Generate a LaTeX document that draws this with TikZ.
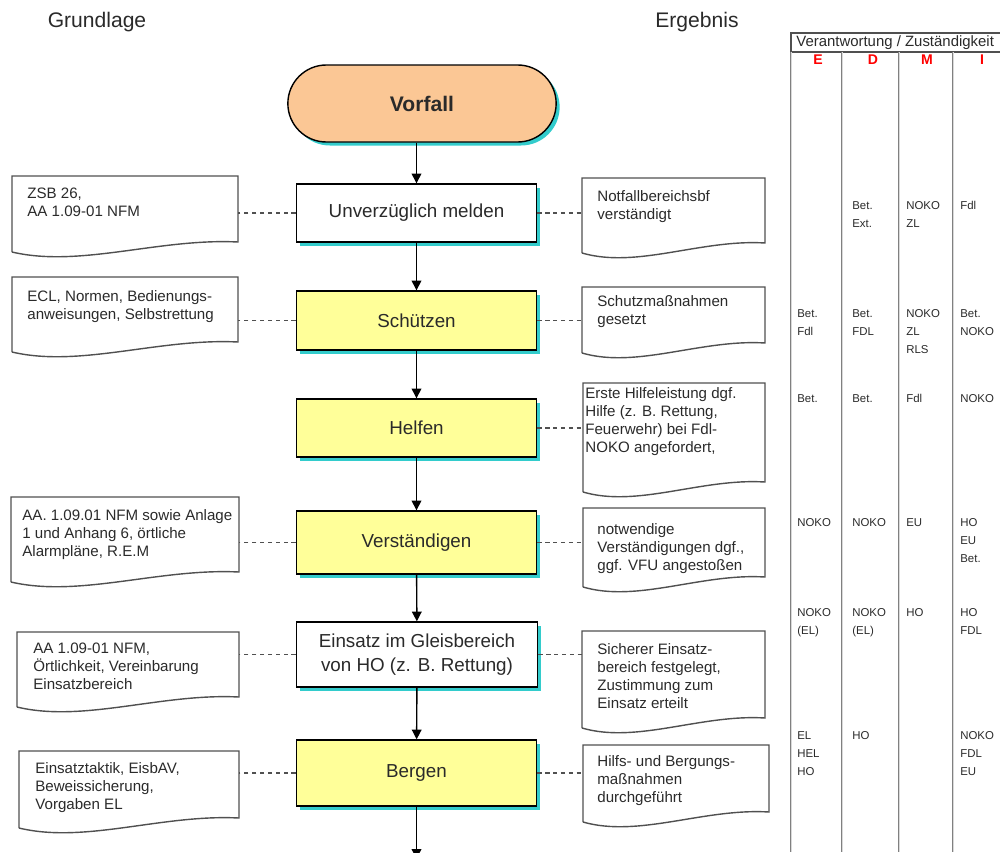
\documentclass[tikz,border=0pt]{standalone}
\usepackage{fontspec}
\setmainfont{Liberation Sans}
\usetikzlibrary{arrows.meta,calc,shapes.misc,shadows}
\definecolor{peach}{HTML}{FBC795}
\definecolor{paleyellow}{HTML}{FFFF99}
\definecolor{shadowcyan}{HTML}{33CCCC}
\definecolor{textgray}{HTML}{2A2A2A}
\definecolor{linegray}{HTML}{505050}
\newcommand{\pxu}{0.02cm}
\tikzset{
  taskbox/.style ={draw=black,line width=0.8pt,fill=paleyellow,minimum width=240*\pxu,align=center,
                   text=textgray,font=\fontsize{10.7}{13.6}\selectfont,
                   drop shadow={shadow xshift=0.07cm,shadow yshift=-0.07cm,fill=shadowcyan,opacity=1}},
  startbox/.style={taskbox,rounded rectangle,fill=peach,minimum width=280*\pxu,minimum height=77*\pxu,
                   font=\fontsize{12}{14}\selectfont\bfseries},
  docframe/.style={anchor=north west,inner sep=0pt,outer sep=0pt},
  doctext/.style ={anchor=north west,inner sep=0pt,align=left,text=textgray,font=\fontsize{8.6}{10.2}\selectfont},
  docline/.style ={draw=linegray,line width=0.8pt},
  flow/.style    ={-{Triangle[length=5.5pt,width=5.5pt]},line width=0.8pt,draw=black},
  link/.style    ={draw=linegray,line width=0.6pt,dash pattern=on 2.5pt off 2pt},
  heading/.style ={text=textgray,font=\fontsize{12}{14}\selectfont},
  cell/.style    ={anchor=north west,inner sep=0pt,align=left,text=textgray,font=\fontsize{6.5}{10.2}\selectfont},
  colletter/.style={text=red,font=\fontsize{8}{9}\selectfont\bfseries},
  colline/.style ={draw=gray,line width=0.4pt,double=gray!30,double distance=0.5pt}
}
% document box: name, x, y, width, left height, text offset, text
\newcommand{\docbox}[7]{%
  \node[docframe,minimum width=#4*\pxu,minimum height=#5*\pxu] (#1) at (#2,#3) {};
  \node[doctext] (#1-text) at ($(#1.north west)+(#6)$) {#7};
  \draw[docline] (#1.south west) -- (#1.north west) -- (#1.north east) -- ([yshift=10*\pxu]#1.south east)
    .. controls ($(#1.south west)!0.65!(#1.south east)+(0,-14)$) and ($(#1.south west)!0.3!(#1.south east)+(0,16)$)
    .. (#1.south west);
}

\begin{document}
\begin{tikzpicture}[x=0.02cm,y=-0.02cm]
  \useasboundingbox (0,0) rectangle (1000,852);

  \node[heading] (hleft)  at (97,22)  {Grundlage};
  \node[heading] (hright) at (697,22) {Ergebnis};

  % main flow
  \node[startbox] (vorfall) at (422,103.5) {Vorfall};
  \node[taskbox,fill=white,minimum height=58*\pxu] (melden)    at (416.5,213)   {Unverzüglich melden};
  \node[taskbox,minimum height=59*\pxu]            (schuetzen) at (416.5,320.5) {Schützen};
  \node[taskbox,minimum height=58*\pxu]            (helfen)    at (416.5,428)   {Helfen};
  \node[taskbox,minimum height=63*\pxu]            (verst)     at (416.5,542.5) {Verständigen};
  \node[taskbox,fill=white,minimum width=241*\pxu,minimum height=65*\pxu] (einsatz) at (417,654.5)
    {Einsatz im Gleisbereich\\von HO (z. B. Rettung)};
  \node[taskbox,minimum height=66*\pxu]            (bergen)    at (416.5,773)   {Bergen};
  \coordinate (exit) at ($(bergen.south)+(0,52)$);

  \draw[flow] (vorfall.south -| melden.north) -- (melden.north);
  \draw[flow] (melden)    -- (schuetzen);
  \draw[flow] (schuetzen) -- (helfen);
  \draw[flow] (helfen)    -- (verst);
  \draw[flow] (verst)     -- (einsatz);
  \draw[flow] (einsatz)   -- (bergen);
  \draw[flow] (bergen)    -- (exit);

  % Grundlage
  \docbox{zsb}{12}{176}{226}{76}{15,12}{ZSB 26,\\AA 1.09-01 NFM}
  \docbox{ecl}{12}{277}{226}{75}{15,13}{ECL, Normen, Bedienungs-\\anweisungen, Selbstrettung}
  \docbox{anlage}{11}{497}{228}{85}{11,12}{AA. 1.09.01 NFM sowie Anlage\\1 und Anhang 6, örtliche\\Alarmpläne, R.E.M}
  \docbox{ortlich}{17}{632}{222}{75}{16,11}{AA 1.09-01 NFM,\\Örtlichkeit, Vereinbarung\\Einsatzbereich}
  \docbox{taktik}{19}{751}{220}{77}{16,11}{Einsatztaktik,  EisbAV,\\Beweissicherung,\\Vorgaben EL}

  % Ergebnis
  \docbox{notfall}{582}{178}{183}{75}{15,12}{Notfallbereichsbf\\verständigt}
  \docbox{schutz}{582}{287}{183}{66}{15,8}{Schutzmaßnahmen\\gesetzt}
  \docbox{hilfe}{583}{383}{182}{109}{2,4}{Erste Hilfeleistung dgf.\\Hilfe (z. B. Rettung,\\Feuerwehr) bei Fdl-\\NOKO angefordert,}
  \docbox{noetig}{583}{508}{182}{79}{14,15}{notwendige\\Verständigungen dgf.,\\ggf. VFU angestoßen}
  \docbox{sicher}{582}{631}{183}{97}{15,12}{Sicherer Einsatz-\\bereich festgelegt,\\Zustimmung  zum\\Einsatz erteilt}
  \docbox{berg}{583}{745}{186}{77}{14,10}{Hilfs- und Bergungs-\\maßnahmen\\durchgeführt}

  \draw[link] (melden.west)    -- (melden.west -| zsb.east);
  \draw[link] (schuetzen.west) -- (schuetzen.west -| ecl.east);
  \draw[link] (verst.west)     -- (verst.west -| anlage.east);
  \draw[link] (einsatz.west)   -- (einsatz.west -| ortlich.east);
  \draw[link] (bergen.west)    -- (bergen.west -| taktik.east);
  \draw[link] (melden.east)    -- (melden.east -| notfall.west);
  \draw[link] (schuetzen.east) -- (schuetzen.east -| schutz.west);
  \draw[link] (helfen.east)    -- (helfen.east -| hilfe.west);
  \draw[link] (verst.east)     -- (verst.east -| noetig.west);
  \draw[link] (einsatz.east)   -- (einsatz.east -| sicher.west);
  \draw[link] (bergen.east)    -- (bergen.east -| berg.west);

  % Verantwortung table
  \draw[line width=1pt,draw=linegray] (1000,33) -- (791,33) -- (791,52) -- (1000,52);
  \node[anchor=west,inner sep=0pt,text=textgray,font=\fontsize{8.5}{10}\selectfont] (resp) at (796,42.5)
    {Verantwortung / Zuständigkeit};
  \draw[colline] (791,52) -- (791,852);
  \foreach \cx in {842,899,953}
    \draw[colline] (\cx,52) -- (\cx,852);
  \foreach \cx/\cl in {818/E,873/D,927/M,982/I}
    \node[colletter] (col\cl) at (\cx,60) {\cl};
  \foreach \cx/\cy/\ct [count=\i] in {
      852/201/{Bet.\\Ext.}, 906/201/{NOKO\\ZL}, 960/201/{Fdl},
      797/309/{Bet.\\Fdl}, 852/309/{Bet.\\FDL}, 906/309/{NOKO\\ZL\\RLS}, 960/309/{Bet.\\NOKO},
      797/394/{Bet.}, 852/394/{Bet.}, 906/394/{Fdl}, 960/394/{NOKO},
      797/518/{NOKO}, 852/518/{NOKO}, 906/518/{EU}, 960/518/{HO\\EU\\Bet.},
      797/608/{NOKO\\(EL)}, 852/608/{NOKO\\(EL)}, 906/608/{HO}, 960/608/{HO\\FDL},
      797/731/{EL\\HEL\\HO}, 852/731/{HO}, 960/731/{NOKO\\FDL\\EU}}
    \node[cell] (cell\i) at (\cx,\cy) {\ct};
\end{tikzpicture}
\end{document}
